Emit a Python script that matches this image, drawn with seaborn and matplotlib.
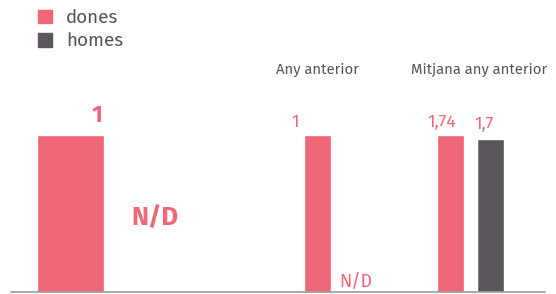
import numpy as np
import matplotlib
matplotlib.use("Agg")
import matplotlib.pyplot as plt
from matplotlib.patches import Patch
from matplotlib.lines import Line2D
import seaborn as sns
import pandas as pd

# dades
series = ["dones", "homes"]
groups = ["", "Any anterior", "Mitjana any anterior"]
dones = [1, 1, 1.74]
homes = [np.nan, np.nan, 1.7]
labels_dones = ["1", "1", "1,74"]
labels_homes = ["N/D", "N/D", "1,7"]

pink = "#ef6677"
dark = "#5a565b"
colors = {"dones": pink, "homes": dark}

sns.set_style("white")
plt.rcParams["font.family"] = ["Fira Sans", "Open Sans", "DejaVu Sans"]

W, H = 556, 294
fig = plt.figure(figsize=(W / 100, H / 100), dpi=100)


def px(x0, y0, x1, y1):
    # rect in pixels (top-left origin) -> figure fraction
    return [x0 / W, 1 - y1 / H, (x1 - x0) / W, (y1 - y0) / H]


base_y = 292
top_y = 135
ax_rects = [(11.4, 214.1, 0.79), (297.5, 377.5, 0.675), (430.5, 510.5, 0.675)]

# offsets (pixels) of the value labels: (dx, dy) for dones and homes
lab_off = [((27, 20), (0, 74)), ((-22, 13), (-2, 10)), ((-9, 13), (-6, 14))]
lab_style = [dict(fontsize=17, fontweight="bold"), dict(fontsize=12.5), dict(fontsize=12.5)]
nd_style = [dict(fontsize=18.5, fontweight="bold"), dict(fontsize=13), dict(fontsize=12.5)]

for i, g in enumerate(groups):
    x0, x1, w = ax_rects[i]
    ax = fig.add_axes(px(x0, top_y, x1, base_y))
    df = pd.DataFrame({"serie": series, "valor": [dones[i], homes[i]]})
    sns.barplot(data=df, x="serie", y="valor", hue="serie", palette=colors,
                width=w, legend=False, ax=ax, saturation=1)
    vmax = np.nanmax([dones[i], homes[i]])
    ax.set_ylim(0, vmax)
    ax.set_xlim(-0.5 if i else -0.7, 1.5 if i else 1.7)
    ax.axis("off")
    for j, (v, lab) in enumerate(zip([dones[i], homes[i]], [labels_dones[i], labels_homes[i]])):
        dx, dy = lab_off[i][j]
        yv = 0 if np.isnan(v) else v
        st = nd_style[i] if lab == "N/D" else lab_style[i]
        ax.annotate(lab, (j, yv), xytext=(dx, dy), textcoords="offset pixels",
                    ha="center", va="center", color=pink, **st)

# titols dels grups
fig.text(318 / W, 1 - 70 / H, groups[1], ha="center", va="center", fontsize=10.7, color="#555555")
fig.text(479 / W, 1 - 70 / H, groups[2], ha="center", va="center", fontsize=10.7, color="#555555")

# linia base
fig.add_artist(Line2D([11 / W, 545 / W], [1 - base_y / H] * 2, color="#999999", lw=1.2))

# llegenda
handles = [Patch(color=colors[s]) for s in series]
fig.legend(handles, series, loc="upper left", bbox_to_anchor=(21 / W, 1 + 8 / H),
           frameon=False, fontsize=13.5, handlelength=0.75, handleheight=0.75,
           handletextpad=0.75, labelspacing=0.3, labelcolor="#555555")

fig.savefig("out.png", dpi=100)
